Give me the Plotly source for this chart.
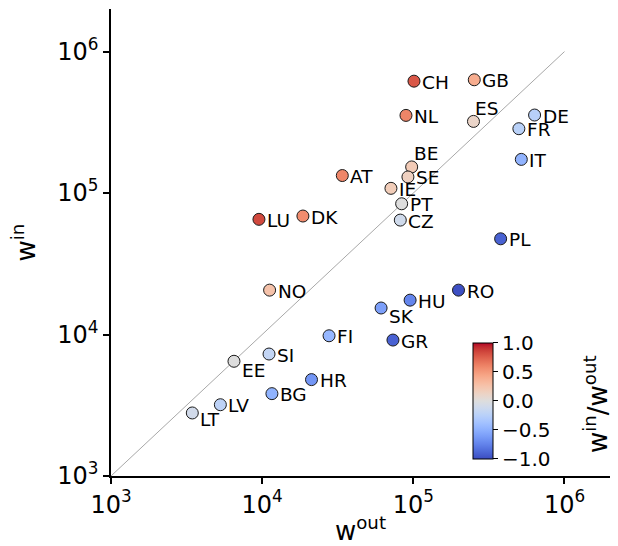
import numpy as np
import plotly.graph_objects as go

# ---- data ----
countries = ["CH", "GB", "NL", "ES", "DE", "FR", "IT", "BE", "AT", "SE",
             "IE", "PT", "CZ", "LU", "DK", "PL", "NO", "HU", "RO", "SK",
             "FI", "GR", "SI", "EE", "HR", "BG", "LV", "LT"]
w_out = [1.01e5, 2.53e5, 8.94e4, 2.50e5, 6.34e5, 4.99e5, 5.18e5, 9.75e4, 3.39e4, 9.21e4,
         7.11e4, 8.37e4, 8.20e4, 9.52e3, 1.86e4, 3.78e5, 1.12e4, 9.52e4, 1.99e5, 6.12e4,
         2.77e4, 7.33e4, 1.11e4, 6.51e3, 2.12e4, 1.16e4, 5.29e3, 3.45e3]
w_in = [6.18e5, 6.32e5, 3.54e5, 3.21e5, 3.56e5, 2.85e5, 1.73e5, 1.53e5, 1.33e5, 1.30e5,
        1.08e5, 8.40e4, 6.44e4, 6.52e4, 6.88e4, 4.75e4, 2.06e4, 1.75e4, 2.06e4, 1.54e4,
        9.80e3, 9.14e3, 7.28e3, 6.47e3, 4.80e3, 3.82e3, 3.19e3, 2.79e3]
diag = [1e3, 1e6]
tick_vals = [1e3, 1e4, 1e5, 1e6]
tick_text = ["10<sup>3</sup>", "10<sup>4</sup>", "10<sup>5</sup>", "10<sup>6</sup>"]
cb_vals = [-1.0, -0.5, 0.0, 0.5, 1.0]
cb_text = ["\u22121.0", "\u22120.5", "0.0", "0.5", "1.0"]

# colour value: log-ratio of in/out, clipped to colour range
cval = np.clip(np.log10(np.array(w_in) / np.array(w_out)), -1, 1)

# matplotlib "coolwarm"
cw = [(59,76,192),(68,90,204),(77,104,215),(87,117,225),(98,130,234),(108,142,241),
      (119,154,247),(130,165,251),(141,176,254),(152,185,255),(163,194,255),(174,201,253),
      (184,208,249),(194,213,244),(204,217,238),(213,219,230),(221,221,221),(229,216,209),
      (236,211,197),(241,204,184),(245,196,173),(247,187,160),(247,177,148),(247,166,135),
      (244,154,123),(241,141,111),(236,127,99),(229,112,88),(222,96,77),(213,80,66),
      (203,62,56),(192,40,47),(180,4,38)]
coolwarm = [[i / (len(cw) - 1), "rgb(%d,%d,%d)" % c] for i, c in enumerate(cw)]

# label placement tweaks (pixels): default to the right of the marker
label_shift = {"ES": (-6, 14), "BE": (-6, 14), "SK": (0, -7), "EE": (0, -8), "LT": (0, -6)}

FONT = "DejaVu Sans"

fig = go.Figure()
fig.add_trace(go.Scatter(x=diag, y=diag, mode="lines",
                         line=dict(color="#a8a8a8", width=1), hoverinfo="skip",
                         showlegend=False))
fig.add_trace(go.Scatter(
    x=w_out, y=w_in, mode="markers", showlegend=False,
    marker=dict(size=12, color=cval, colorscale=coolwarm, cmin=-1, cmax=1,
                line=dict(color="#1a1a1a", width=1),
                colorbar=dict(
                    x=0.726, xanchor="left", xpad=0,
                    y=0.037, yanchor="bottom", ypad=0,
                    len=116, lenmode="pixels", thickness=20,
                    outlinecolor="black", outlinewidth=1,
                    ticks="outside", ticklen=5, tickwidth=1, tickcolor="black",
                    tickvals=cb_vals, ticktext=cb_text,
                    tickfont=dict(family=FONT, size=20, color="black"),
                )),
    text=countries, hoverinfo="text"))

for c, xo, yi in zip(countries, w_out, w_in):
    dx, dy = label_shift.get(c, (0, 0))
    fig.add_annotation(x=np.log10(xo), y=np.log10(yi), text=c, showarrow=False,
                       xanchor="left", yanchor="middle", xshift=6 + dx, yshift=-1 + dy,
                       font=dict(family=FONT, size=18.5, color="black"))

# colour-bar title (rotated, to the right of the colour-bar tick labels)
fig.add_annotation(xref="paper", yref="paper", x=0.972, y=0.154,
                   text="w<sup>in</sup>/w<sup>out</sup>", textangle=-90, showarrow=False,
                   xanchor="center", yanchor="middle",
                   font=dict(family=FONT, size=26, color="black"))

axis_common = dict(type="log", range=[3, np.log10(2e6)], showgrid=False, zeroline=False,
                   automargin=False,
                   showline=True, linecolor="black", linewidth=1.5,
                   ticks="outside", ticklen=6, tickwidth=1.5, tickcolor="black",
                   tickvals=tick_vals, ticktext=tick_text,
                   tickfont=dict(family=FONT, size=24, color="black"))

fig.update_layout(
    width=618, height=546,
    margin=dict(l=111, r=8, t=9, b=70),
    paper_bgcolor="white", plot_bgcolor="white",
    font=dict(family=FONT, color="black"),
    xaxis=dict(**axis_common,
               title=dict(text="w<sup>out</sup>", standoff=4,
                          font=dict(family=FONT, size=26, color="black"))),
    yaxis=dict(**axis_common,
               title=dict(text="w<sup>in</sup>", standoff=14,
                          font=dict(family=FONT, size=26, color="black"))),
)

fig.write_html("out.html")
